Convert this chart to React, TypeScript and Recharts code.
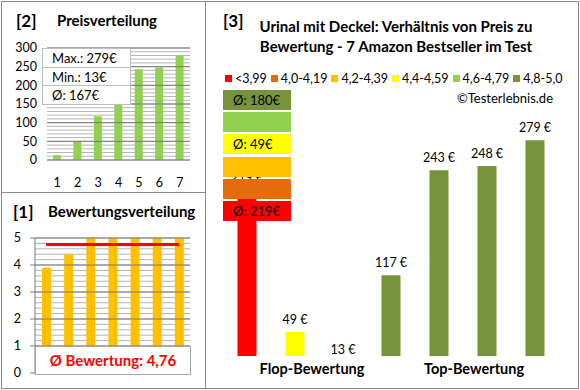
import { BarChart, Bar, XAxis, YAxis, CartesianGrid, Cell, LabelList, ReferenceLine } from "recharts";

// [2] Preisverteilung
const priceRanks = ["1", "2", "3", "4", "5", "6", "7"];
const sortedPrices = [13, 49, 117, 219, 243, 248, 279];
const priceTicks = [0, 50, 100, 150, 200, 250, 300];
const priceStats = ["Max.: 279€", "Min.: 13€", "Ø: 167€"];

// [1] Bewertungsverteilung
const ratingSlots = ["1", "2", "3", "4", "5", "6", "7"];
const ratings = [3.9, 4.4, 5, 5, 5, 5, 5];
const ratingTicks = [0, 1, 2, 3, 4, 5];
const avgRating = 4.76;
const avgRatingText = "Ø Bewertung: 4,76";

// [3] Preis vs. Bewertung
const products = ["A", "B", "C", "D", "E", "F", "G"];
const prices = [219, 49, 13, 117, 243, 248, 279];
const productRatings = [3.9, 4.4, 5, 5, 5, 5, 5];
const classNames = ["<3,99", "4,0-4,19", "4,2-4,39", "4,4-4,59", "4,6-4,79", "4,8-5,0"];
const classLimits = [4.0, 4.2, 4.4, 4.6, 4.8, 5.01];
const classAvg = ["Ø: 219€", "", "", "Ø: 49€", "", "Ø: 180€"];

const CLASS_COLORS = ["#FF0000", "#E46C0A", "#FFC000", "#FFFF00", "#92D050", "#77933C"];
const FONT = "Lato, 'Open Sans', sans-serif";
const FRAME = "#8C8C8C";
const MINOR = "#B4B4B4";
const MAJOR = "#7A7A7A";

const range = (from: number, to: number, step: number) => {
  const out: number[] = [];
  for (let v = from; v <= to + 1e-9; v += step) out.push(Math.round(v * 100) / 100);
  return out;
};

const classOf = (r: number) => classLimits.findIndex((l) => r < l);

const priceData = priceRanks.map((rank, i) => ({ rank, price: sortedPrices[i] }));
const ratingData = ratingSlots.map((slot, i) => ({ slot, rating: ratings[i] }));
const productData = products.map((name, i) => ({ name, price: prices[i], cls: classOf(productRatings[i]) }));

const tickStyle = { fontSize: 12.5, fill: "#000", fontFamily: FONT };

function PriceLabel(props: any) {
  const vb = props.viewBox || props;
  const x = (vb.x ?? props.x) + (vb.width ?? props.width) / 2;
  const y = vb.y ?? props.y;
  return (
    <text x={x} y={y - 8} textAnchor="middle" fontSize={12.5} fontFamily={FONT} fill="#000">
      {props.value} €
    </text>
  );
}

export default function App() {
  return (
    <div style={{ position: "absolute", left: 0, top: 0, width: 580, height: 390, fontFamily: FONT, background: "#fff" }}>
      {/* frame */}
      <div style={{ position: "absolute", left: 1, top: 1, width: 576, height: 386, border: `1px solid ${FRAME}` }} />
      <div style={{ position: "absolute", left: 205, top: 1, width: 1, height: 387, background: FRAME }} />
      <div style={{ position: "absolute", left: 1, top: 192, width: 204, height: 1, background: FRAME }} />

      {/* [2] Preisverteilung */}
      <div style={{ position: "absolute", left: 16, top: 10, fontSize: 17, fontWeight: 700 }}>[2]</div>
      <div style={{ position: "absolute", left: 57, top: 11, fontSize: 15, fontWeight: 700 }}>Preisverteilung</div>
      <div style={{ position: "absolute", left: 0, top: 0 }}>
        <BarChart width={200} height={195} data={priceData} margin={{ top: 48, right: 10, bottom: 10, left: 7 }}>
          <CartesianGrid vertical={false} horizontalValues={range(0, 300, 10)} stroke={MINOR} />
          <XAxis dataKey="rank" height={25} axisLine={false} tickLine={false} tickSize={0} tickMargin={18} tick={tickStyle} interval={0} />
          <YAxis width={40} domain={[0, 300]} ticks={priceTicks} interval={0} axisLine={false} tickLine={false} tickSize={0} tickMargin={10} tick={tickStyle} />
          {priceTicks.map((t) => (
            <ReferenceLine key={t} y={t} stroke={MAJOR} />
          ))}
          <Bar dataKey="price" fill="#92D050" barSize={8} isAnimationActive={false} />
        </BarChart>
      </div>
      <div style={{ position: "absolute", left: 42, top: 48, width: 87, height: 55, background: "#fff", border: "1px solid #BFBFBF", fontSize: 13 }}>
        {priceStats.map((s, i) => (
          <div key={s} style={{ height: 18, lineHeight: "18px", paddingLeft: 9, borderTop: i ? "1px solid #BFBFBF" : "none", boxSizing: "border-box" }}>
            {s}
          </div>
        ))}
      </div>

      {/* [1] Bewertungsverteilung */}
      <div style={{ position: "absolute", left: 13, top: 201, fontSize: 17, fontWeight: 700 }}>[1]</div>
      <div style={{ position: "absolute", left: 48, top: 202, fontSize: 15, fontWeight: 700 }}>Bewertungsverteilung</div>
      <div style={{ position: "absolute", left: 0, top: 195 }}>
        <BarChart width={200} height={195} data={ratingData} margin={{ top: 43, right: 10, bottom: 17, left: 5 }}>
          <CartesianGrid vertical={false} horizontalValues={range(0, 5, 0.2)} stroke={MINOR} />
          <XAxis dataKey="slot" hide />
          <YAxis
            width={30}
            domain={[0, 5]}
            ticks={ratingTicks}
            interval={0}
            axisLine={{ stroke: MAJOR }}
            tickLine={{ stroke: MAJOR }}
            tickSize={5}
            tickMargin={9}
            tick={tickStyle}
          />
          {ratingTicks.map((t) => (
            <ReferenceLine key={t} y={t} stroke={MAJOR} />
          ))}
          <Bar dataKey="rating" fill="#FFC000" barSize={9} isAnimationActive={false} />
          <ReferenceLine
            segment={[{ x: ratingSlots[0], y: avgRating }, { x: ratingSlots[ratingSlots.length - 1], y: avgRating }]}
            stroke="#FF0000"
            strokeWidth={3}
          />
        </BarChart>
      </div>
      <div
        style={{
          position: "absolute", left: 35, top: 346, width: 154, height: 27, background: "#fff",
          border: "1px solid #A6A6A6", color: "#FF0000", fontWeight: 700, fontSize: 15,
          textAlign: "center", lineHeight: "27px",
        }}
      >
        {avgRatingText}
      </div>

      {/* [3] Preis / Bewertung */}
      <div style={{ position: "absolute", left: 223, top: 10, fontSize: 17, fontWeight: 700 }}>[3]</div>
      <div style={{ position: "absolute", left: 246, top: 16, width: 300, textAlign: "center", fontSize: 15, fontWeight: 700, lineHeight: "20px" }}>
        Urinal mit Deckel: Verhältnis von Preis zu
        <br />
        Bewertung - 7 Amazon Bestseller im Test
      </div>
      <div style={{ position: "absolute", left: 225, top: 71, display: "flex", alignItems: "center", gap: 4, fontSize: 12.5, whiteSpace: "nowrap" }}>
        {classNames.map((n, i) => (
          <div key={n} style={{ display: "flex", alignItems: "center" }}>
            <span style={{ width: 7, height: 7, background: CLASS_COLORS[i], marginRight: 3, display: "inline-block" }} />
            <span>{n}</span>
          </div>
        ))}
      </div>
      <div style={{ position: "absolute", right: 27, top: 90, fontSize: 13, whiteSpace: "nowrap" }}>©Testerlebnis.de</div>

      <div style={{ position: "absolute", left: 205, top: 0 }}>
        <BarChart width={375} height={390} data={productData} margin={{ top: 106, right: 21.5, bottom: 34, left: 17.5 }}>
          <XAxis dataKey="name" hide />
          <YAxis hide domain={[20, 320]} allowDataOverflow />
          <Bar dataKey="price" barSize={19} isAnimationActive={false}>
            {productData.map((d) => (
              <Cell key={d.name} fill={CLASS_COLORS[d.cls]} />
            ))}
            <LabelList dataKey="price" content={PriceLabel} />
          </Bar>
        </BarChart>
      </div>

      {classNames.map((n, i) => (
        <div
          key={n}
          style={{
            position: "absolute", left: 223, top: 201 - i * 22.2, width: 68, height: 20,
            background: CLASS_COLORS[i], fontSize: 13, lineHeight: "20px", paddingLeft: 10, boxSizing: "border-box",
          }}
        >
          {classAvg[i]}
        </div>
      ))}

      <div style={{ position: "absolute", left: 242, top: 360, width: 140, textAlign: "center", fontSize: 14.5, fontWeight: 700, whiteSpace: "nowrap" }}>Flop-Bewertung</div>
      <div style={{ position: "absolute", left: 404, top: 360, width: 140, textAlign: "center", fontSize: 14.5, fontWeight: 700, whiteSpace: "nowrap" }}>Top-Bewertung</div>
    </div>
  );
}
